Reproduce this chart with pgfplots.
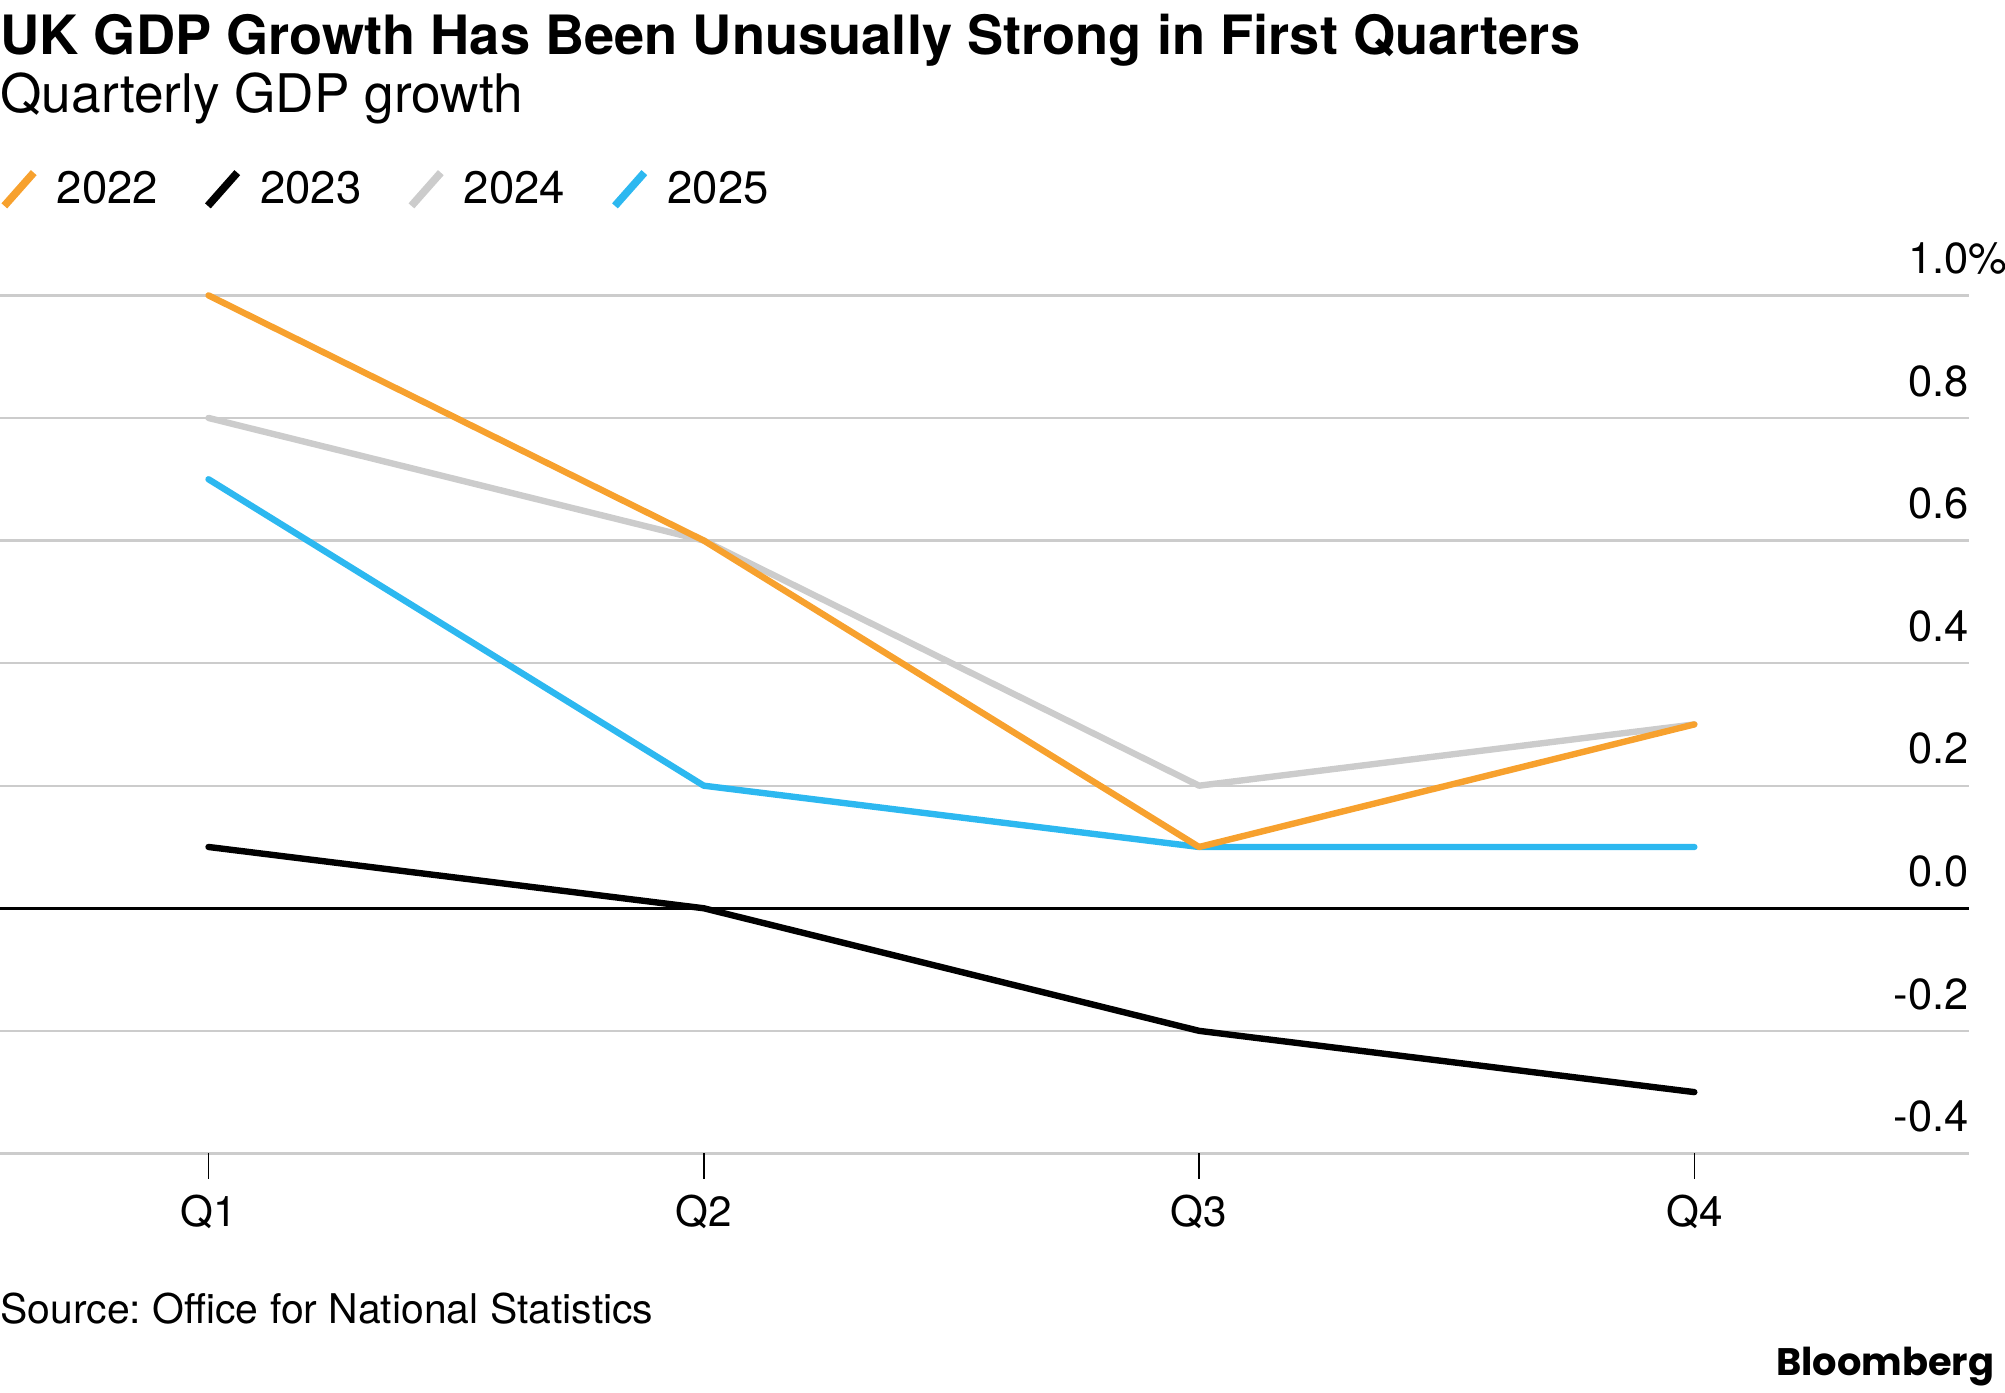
\documentclass[border=0pt]{standalone}
\usepackage{fontspec}
\setmainfont{TeX Gyre Heros}
\newfontfamily\logofont{Poppins}
\usepackage{pgfplots}
\pgfplotsset{compat=1.18}
\definecolor{c22}{HTML}{F7A12E}
\definecolor{c23}{HTML}{000000}
\definecolor{c24}{HTML}{CCCCCC}
\definecolor{c25}{HTML}{2DB8F0}
\definecolor{gridc}{HTML}{CCCCCC}
\frenchspacing
\begin{document}
\begin{tikzpicture}
\path[use as bounding box] (0,0) rectangle (784pt,-544.5pt);
\node[anchor=base west, inner sep=0pt, font=\bfseries\fontsize{21.2}{25}\selectfont] at (0,-21.5pt) {UK GDP Growth Has Been Unusually Strong in First Quarters};
\node[anchor=base west, inner sep=0pt, font=\fontsize{20.8}{25}\selectfont] at (0,-44pt) {Quarterly GDP growth};
\begin{axis}[
  at={(0pt,-451pt)}, anchor=south west,
  scale only axis, width=770pt, height=335.5pt,
  xmin=0.579, xmax=4.555, ymin=-0.4, ymax=1.0,
  axis line style={draw=none},
  xtick={1,2,3,4}, xticklabels={Q1,Q2,Q3,Q4},
  xtick pos=bottom, xtick align=outside,
  major tick length=10pt,
  xtick style={draw=black, line width=0.6pt},
  xticklabel style={font=\fontsize{16.5}{20}\selectfont, anchor=north, inner sep=0pt, yshift=-6pt},
  ytick={-0.4,-0.2,0,0.2,0.4,0.6,0.8,1.0},
  yticklabels={-0.4,-0.2,0.0,0.2,0.4,0.6,0.8,{1.0\rlap{\%}}},
  yticklabel pos=right,
  ytick style={draw=none},
  yticklabel style={font=\fontsize{17}{20}\selectfont, anchor=base east, inner sep=0pt, xshift=0pt, yshift=8.5pt},
  ymajorgrids, grid style={gridc, line width=0.9pt},
  clip=false,
  legend columns=4, reverse legend,
  legend style={at={(axis description cs:0,1.1237)}, anchor=west, draw=none, fill=none, inner sep=0pt,
    font=\fontsize{17.8}{20}\selectfont,
    /tikz/every even column/.append style={column sep=16pt},
    /tikz/every odd column/.append style={column sep=5.5pt}},
  legend image code/.code={\draw[#1, line cap=butt, line width=3pt] (0.5pt,-6.5pt) -- (12pt,6.5pt);},
  every axis plot/.append style={line width=2.5pt, line cap=round, line join=round},
]
\addplot[black, line width=1.1pt, line cap=butt, forget plot] coordinates {(0.579,0) (4.555,0)};
\addplot[c25] coordinates {(1,0.7) (2,0.2) (3,0.1) (4,0.1)};
\addlegendentry{2025}
\addplot[c24] coordinates {(1,0.8) (2,0.6) (3,0.2) (4,0.3)};
\addlegendentry{2024}
\addplot[c23] coordinates {(1,0.1) (2,0.0) (3,-0.2) (4,-0.3)};
\addlegendentry{2023}
\addplot[c22] coordinates {(1,1.0) (2,0.6) (3,0.1) (4,0.3)};
\addlegendentry{2022}
\end{axis}
\node[anchor=base west, inner sep=0pt, font=\fontsize{16}{19}\selectfont] at (0,-517.5pt) {Source: Office for National Statistics};
\node[anchor=base east, inner sep=0pt, font=\logofont\bfseries\fontsize{15}{18}\selectfont] at (780pt,-538pt) {Bloomberg};
\end{tikzpicture}
\end{document}
